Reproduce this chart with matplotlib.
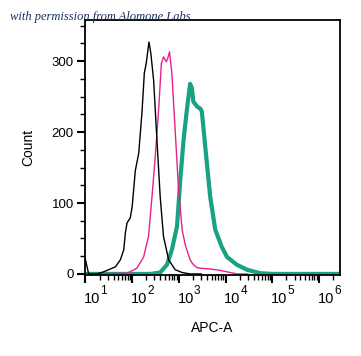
import matplotlib
matplotlib.use('Agg')
import matplotlib.pyplot as plt
import numpy as np
from matplotlib import rcParams
from matplotlib.ticker import FixedLocator, NullFormatter

rcParams['font.family'] = 'Liberation Sans'

# APC-A histogram traces
black_x = [10, 11.7, 17.8, 24.5, 43.7, 56, 66, 71.6, 77.6, 91, 100, 117, 138, 162,
           182, 200, 229, 251, 288, 339, 398, 468, 603, 832, 1175, 1740, 3000]
black_y = [20, 0, 0, 3, 10, 20, 34, 58, 72, 79, 95, 146, 170, 227,
           283, 297, 327, 311, 273, 189, 109, 53, 20, 6, 2, 0, 0]

pink_x = [10, 78, 126, 176, 224, 266, 316, 372, 422, 470, 537, 575, 631, 708,
          832, 977, 1175, 1380, 1480, 1740, 2040, 2450, 2880, 4680, 7670, 12600,
          17800, 30000]
pink_y = [0, 1, 8, 24, 53, 109, 170, 236, 297, 306, 299, 304, 313, 283,
          203, 123, 62, 40, 34, 20, 13, 9, 8, 7, 5, 2, 0, 0]

green_x = [10, 245, 398, 556, 708, 912, 1070, 1260, 1480, 1740, 1900, 2040, 2450,
           2880, 3100, 3390, 3980, 4680, 6030, 8320, 10700, 17400, 28500, 55000,
           105000, 2.8e6]
green_y = [0, 0, 2, 13, 34, 67, 132, 189, 231, 268, 262, 243, 236,
           233, 229, 203, 156, 109, 62, 38, 24, 13, 6, 1, 0, 0]

decades = [1, 2, 3, 4, 5, 6]
yticks = [0, 100, 200, 300]

fig = plt.figure(figsize=(3.61, 3.56), dpi=100)
ax = fig.add_axes([85/361, 1-275/356, 255/361, 255/356])

ax.plot(green_x, green_y, color='#1aa082', lw=3.0, solid_joinstyle='round')
ax.plot(pink_x, pink_y, color='#e5228c', lw=1.0)
ax.plot(black_x, black_y, color='black', lw=1.0)

ax.set_xscale('log')
ax.set_xlim(10**0.99, 10**6.45)
ax.set_ylim(-1.5, 358)

# decade labels drawn by hand: "10" left-aligned at the tick, big superscript
ax.set_xticks([10.0**d for d in decades])
ax.set_xticklabels([])
tr = ax.get_xaxis_transform()
for d in decades:
    ax.annotate('10', (10.0**d, 0), xycoords=tr, xytext=(-1.0, -20.5),
                textcoords='offset points', fontsize=10.5, ha='left', va='baseline',
                annotation_clip=False)
    ax.annotate(str(d), (10.0**d, 0), xycoords=tr, xytext=(10.8, -13.5),
                textcoords='offset points', fontsize=8.5, ha='left', va='baseline',
                annotation_clip=False)
minors = [m * 10.0**d for d in range(0, 7) for m in range(2, 10)]
ax.xaxis.set_minor_locator(FixedLocator(minors))
ax.xaxis.set_minor_formatter(NullFormatter())

ax.set_yticks(yticks)
ax.set_yticklabels([str(v) for v in yticks], fontsize=9.5)
ax.yaxis.set_minor_locator(FixedLocator(np.arange(0, 360, 25)))

ax.tick_params(axis='both', which='major', direction='out', length=6, width=1.5, pad=2)
ax.tick_params(axis='both', which='minor', direction='out', length=3.5, width=1.0)
for s in ax.spines.values():
    s.set_linewidth(1.3)

ax.set_xlabel('APC-A', fontsize=10, labelpad=25)
ax.set_ylabel('Count', fontsize=10, labelpad=12)

fig.text(10/361, 1-20/356, 'with permission from Alomone Labs', fontsize=9,
         family='Liberation Serif', style='italic', color='#1b2f5e', ha='left',
         va='baseline')

fig.savefig('out.png', dpi=100)
